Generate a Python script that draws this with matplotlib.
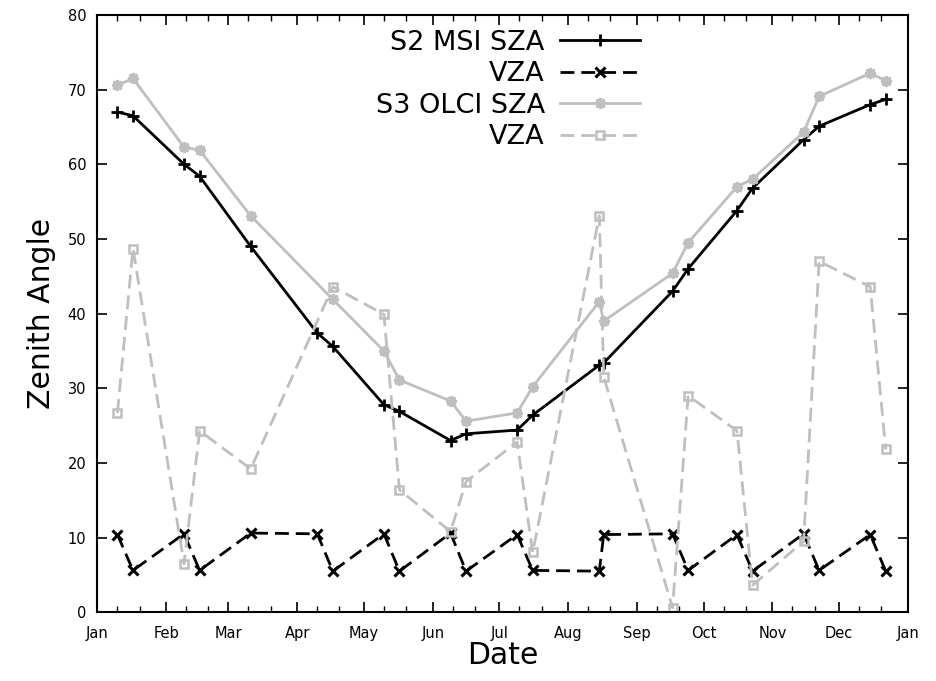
import matplotlib
matplotlib.use('Agg')
import matplotlib.pyplot as plt
import matplotlib.dates as mdates
import numpy as np
import pandas as pd

# Sentinel-2 MSI acquisition dates and angles
s2_dates = ['2018-01-10', '2018-01-17', '2018-02-09', '2018-02-16', '2018-03-11',
            '2018-04-10', '2018-04-17', '2018-05-10', '2018-05-17', '2018-06-09',
            '2018-06-16', '2018-07-09', '2018-07-16', '2018-08-15', '2018-08-17',
            '2018-09-17', '2018-09-24', '2018-10-16', '2018-10-23', '2018-11-15',
            '2018-11-22', '2018-12-15', '2018-12-22']
s2_sza = [67.0, 66.5, 60.0, 58.4, 49.0, 37.4, 35.6, 27.8, 26.9, 23.0, 23.9, 24.4,
          26.4, 33.1, 33.4, 43.0, 46.0, 53.8, 56.8, 63.3, 65.1, 68.0, 68.7]
s2_vza = [10.4, 5.6, 10.5, 5.6, 10.6, 10.5, 5.5, 10.5, 5.5, 10.6, 5.5, 10.4,
          5.6, 5.5, 10.4, 10.5, 5.6, 10.4, 5.5, 10.5, 5.6, 10.4, 5.5]

# Sentinel-3 OLCI acquisition dates and angles
s3_dates = ['2018-01-10', '2018-01-17', '2018-02-09', '2018-02-16', '2018-03-11',
            '2018-04-17', '2018-05-10', '2018-05-17', '2018-06-09', '2018-06-16',
            '2018-07-09', '2018-07-16', '2018-08-15', '2018-08-17', '2018-09-17',
            '2018-09-24', '2018-10-16', '2018-10-23', '2018-11-15', '2018-11-22',
            '2018-12-15', '2018-12-22']
s3_sza = [70.6, 71.5, 62.3, 61.9, 53.1, 41.9, 35.0, 31.1, 28.3, 25.6, 26.7, 30.2,
          41.6, 39.0, 45.4, 49.5, 57.0, 58.0, 64.3, 69.1, 72.2, 71.2]
s3_vza = [26.7, 48.7, 6.5, 24.3, 19.2, 43.6, 39.9, 16.4, 10.8, 17.5, 22.8, 8.0,
          53.1, 31.5, 0.6, 29.0, 24.3, 3.6, 9.5, 47.0, 43.6, 21.8]

s2_dates = pd.to_datetime(s2_dates)
s3_dates = pd.to_datetime(s3_dates)

gray = '#bfbfbf'

fig, ax = plt.subplots(figsize=(9.37, 6.81), dpi=100)
fig.subplots_adjust(left=0.104, right=0.969, top=0.978, bottom=0.101)

ax.plot(s2_dates, s2_sza, color='black', linestyle='-', linewidth=2,
        marker='+', markersize=8, markeredgewidth=2, label='S2 MSI SZA')
ax.plot(s2_dates, s2_vza, color='black', linestyle='--', linewidth=2,
        dashes=(5, 2.5), marker='x', markersize=7.5, markeredgewidth=2.2, label='VZA')
ax.plot(s3_dates, s3_sza, color=gray, linestyle='-', linewidth=2,
        marker=(8, 2, 0), markersize=8, markeredgewidth=2, label='S3 OLCI SZA')
ax.plot(s3_dates, s3_vza, color=gray, linestyle='--', linewidth=2,
        dashes=(5, 2.5), marker='s', markersize=6, markerfacecolor='none',
        markeredgewidth=1.8, label='VZA')

ax.set_xlim(pd.Timestamp('2018-01-01'), pd.Timestamp('2019-01-01'))
ax.set_ylim(0, 80)
ax.set_yticks(np.arange(0, 81, 10))

ax.xaxis.set_major_locator(mdates.MonthLocator())
ax.xaxis.set_minor_locator(mdates.DayLocator(bymonthday=[10, 20]))
ax.xaxis.set_major_formatter(mdates.DateFormatter('%b'))

ax.tick_params(which='both', direction='in', top=True, right=True)
ax.tick_params(which='major', length=7, width=1.2, labelsize=10.5)
ax.tick_params(axis='x', which='major', pad=10)
ax.tick_params(axis='y', which='major', pad=8)
ax.tick_params(which='minor', length=4, width=1)
for s in ax.spines.values():
    s.set_linewidth(1.5)

ax.set_xlabel('Date', fontsize=21.5, labelpad=0)
ax.set_ylabel('Zenith Angle', fontsize=21.5, labelpad=8)

ax.legend(loc='upper center', bbox_to_anchor=(0.506, 1.0), frameon=False,
          markerfirst=False, fontsize=19.5, handlelength=2.95,
          handletextpad=0.55, labelspacing=0.2, borderaxespad=0.15)

plt.savefig('out.png', dpi=100)
